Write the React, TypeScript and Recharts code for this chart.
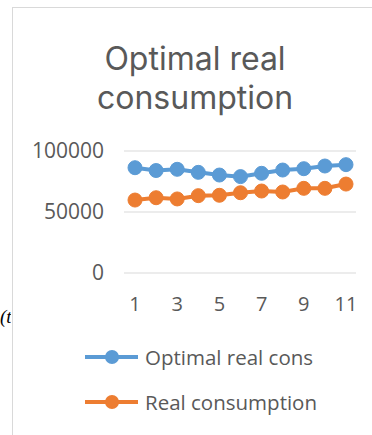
import { LineChart, Line, XAxis, YAxis, CartesianGrid } from "recharts";

const periods = ["1", "2", "3", "4", "5", "6", "7", "8", "9", "10", "11"];
const optimalCons = [86300, 84000, 85000, 82500, 80300, 79000, 81700, 84400, 85500, 87700, 88800];
const realCons = [59800, 61700, 60700, 63400, 63700, 65800, 67200, 66400, 69400, 69400, 72900];
const yTicks = [0, 50000, 100000];
const titleLines = ["Optimal real", "consumption"];
const seriesNames = ["Optimal real cons", "Real consumption"];
const COLORS = ["#5B9BD5", "#ED7D31"];

const data = periods.map((p, i) => ({
  period: p,
  optimal: optimalCons[i],
  real: realCons[i],
}));

const FONT = "'Open Sans', sans-serif";
const TITLE_FONT = "Inter, 'Open Sans', sans-serif";
const GRAY = "#595959";

export default function App() {
  return (
    <div
      style={{
        position: "absolute",
        left: 0,
        top: 0,
        width: 372,
        height: 435,
        background: "#fff",
        overflow: "hidden",
        fontFamily: FONT,
      }}
    >
      {/* chart frame */}
      <div
        style={{
          position: "absolute",
          left: 12,
          top: 7,
          width: 400,
          height: 440,
          borderLeft: "1px solid #d9d9d9",
          borderTop: "1px solid #d9d9d9",
        }}
      />

      {titleLines.map((t, i) => (
        <div
          key={t}
          style={{
            position: "absolute",
            left: 0,
            top: 41 + i * 39,
            width: 390,
            height: 36,
            textAlign: "center",
            fontFamily: TITLE_FONT,
            fontSize: 32,
            lineHeight: "36px",
            color: GRAY,
            whiteSpace: "nowrap",
          }}
        >
          {t}
        </div>
      ))}

      <div
        style={{
          position: "absolute",
          left: 0,
          top: 306,
          width: 11,
          overflow: "hidden",
          fontFamily: "'Liberation Serif', serif",
          fontStyle: "italic",
          fontSize: 19,
          whiteSpace: "nowrap",
        }}
      >
        (t
      </div>

      <div style={{ position: "absolute", left: 0, top: 0 }}>
        <LineChart
          width={372}
          height={435}
          data={data}
          margin={{ top: 151, right: 16, bottom: 132, left: 0 }}
        >
          <CartesianGrid vertical={false} stroke="#d9d9d9" strokeWidth={1} />
          <XAxis
            dataKey="period"
            interval={1}
            padding={{ left: 11, right: 10 }}
            axisLine={false}
            tickLine={false}
            tickSize={0}
            tickMargin={24}
            height={30}
            tick={{ fill: GRAY, fontSize: 20, fontFamily: FONT }}
          />
          <YAxis
            domain={[0, 100000]}
            ticks={yTicks}
            width={124}
            axisLine={false}
            tickLine={false}
            tickSize={0}
            tickMargin={20}
            tick={{ fill: GRAY, fontSize: 21, fontFamily: FONT }}
          />
          <Line
            dataKey="optimal"
            name={seriesNames[0]}
            stroke={COLORS[0]}
            strokeWidth={4}
            dot={{ r: 7, fill: COLORS[0], stroke: COLORS[0], strokeWidth: 1 }}
            isAnimationActive={false}
          />
          <Line
            dataKey="real"
            name={seriesNames[1]}
            stroke={COLORS[1]}
            strokeWidth={4}
            dot={{ r: 7, fill: COLORS[1], stroke: COLORS[1], strokeWidth: 1 }}
            isAnimationActive={false}
          />
        </LineChart>
      </div>

      <svg
        width={372}
        height={435}
        style={{ position: "absolute", left: 0, top: 0, pointerEvents: "none" }}
      >
        {seriesNames.map((name, i) => {
          const cy = 357 + i * 45;
          return (
            <g key={name}>
              <line x1={85} x2={138} y1={cy} y2={cy} stroke={COLORS[i]} strokeWidth={4} />
              <circle cx={112} cy={cy} r={7} fill={COLORS[i]} />
              <text x={145} y={cy + 8} fill={GRAY} fontSize={20.5} fontFamily={FONT}>
                {name}
              </text>
            </g>
          );
        })}
      </svg>
    </div>
  );
}
